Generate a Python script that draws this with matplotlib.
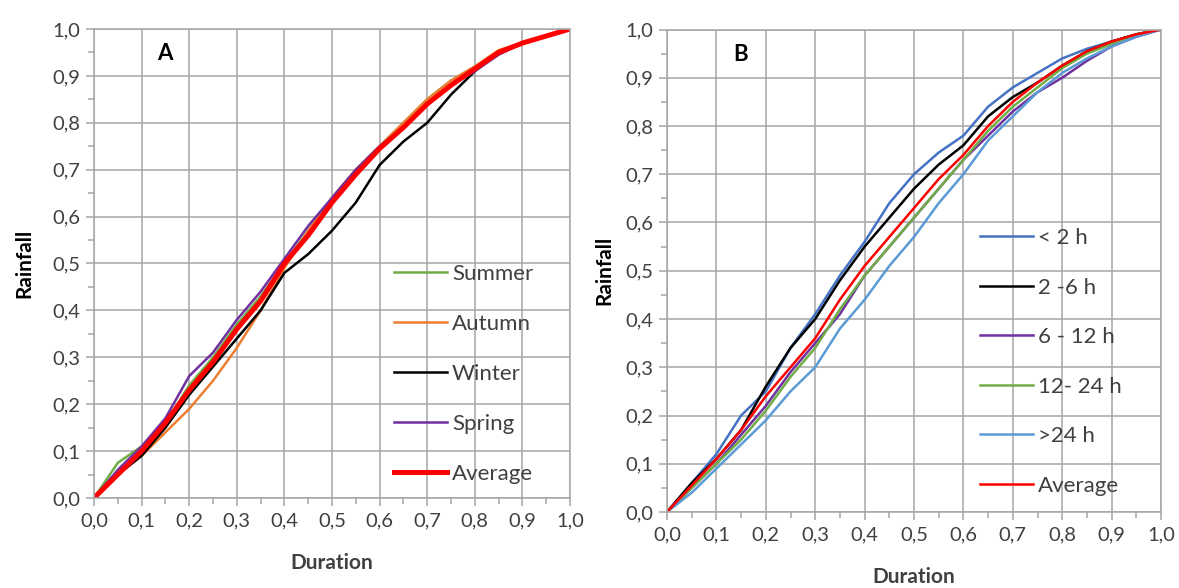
import matplotlib.pyplot as plt
from matplotlib.ticker import MultipleLocator, FuncFormatter

plt.rcParams['font.family'] = ['Lato', 'DejaVu Sans']

duration = [0.0, 0.05, 0.1, 0.15, 0.2, 0.25, 0.3, 0.35, 0.4, 0.45, 0.5,
            0.55, 0.6, 0.65, 0.7, 0.75, 0.8, 0.85, 0.9, 0.95, 1.0]

# panel A - seasons
summer = [0.0, 0.075, 0.11, 0.16, 0.24, 0.30, 0.37, 0.43, 0.50, 0.57, 0.64,
          0.70, 0.75, 0.80, 0.85, 0.89, 0.92, 0.95, 0.97, 0.985, 1.0]
autumn = [0.0, 0.05, 0.09, 0.14, 0.19, 0.25, 0.32, 0.40, 0.49, 0.57, 0.64,
          0.70, 0.75, 0.80, 0.85, 0.89, 0.92, 0.955, 0.97, 0.985, 1.0]
winter = [0.0, 0.05, 0.09, 0.15, 0.22, 0.28, 0.34, 0.40, 0.48, 0.52, 0.57,
          0.63, 0.71, 0.76, 0.80, 0.86, 0.91, 0.95, 0.97, 0.985, 1.0]
spring = [0.0, 0.06, 0.11, 0.17, 0.26, 0.31, 0.38, 0.44, 0.51, 0.58, 0.64,
          0.70, 0.75, 0.79, 0.84, 0.88, 0.91, 0.945, 0.97, 0.985, 1.0]
average_a = [0.0, 0.05, 0.10, 0.16, 0.23, 0.29, 0.36, 0.42, 0.50, 0.56, 0.63,
             0.69, 0.745, 0.79, 0.84, 0.88, 0.915, 0.95, 0.97, 0.985, 1.0]

# panel B - storm duration classes
lt2h = [0.0, 0.06, 0.12, 0.20, 0.25, 0.34, 0.41, 0.49, 0.56, 0.64, 0.70,
        0.745, 0.78, 0.84, 0.88, 0.91, 0.94, 0.96, 0.975, 0.99, 1.0]
h2_6 = [0.0, 0.06, 0.11, 0.17, 0.26, 0.34, 0.40, 0.48, 0.55, 0.61, 0.67,
        0.72, 0.76, 0.82, 0.86, 0.89, 0.925, 0.955, 0.975, 0.99, 1.0]
h6_12 = [0.0, 0.05, 0.10, 0.16, 0.22, 0.29, 0.35, 0.41, 0.49, 0.55, 0.61,
         0.67, 0.73, 0.78, 0.83, 0.87, 0.90, 0.935, 0.965, 0.985, 1.0]
h12_24 = [0.0, 0.05, 0.10, 0.15, 0.21, 0.28, 0.34, 0.42, 0.49, 0.55, 0.61,
          0.67, 0.73, 0.79, 0.84, 0.88, 0.92, 0.95, 0.97, 0.99, 1.0]
gt24h = [0.0, 0.04, 0.09, 0.14, 0.19, 0.25, 0.30, 0.38, 0.44, 0.51, 0.57,
         0.64, 0.70, 0.77, 0.82, 0.87, 0.91, 0.94, 0.965, 0.985, 1.0]
average_b = [0.0, 0.055, 0.11, 0.17, 0.24, 0.30, 0.36, 0.44, 0.51, 0.57, 0.63,
             0.69, 0.74, 0.80, 0.85, 0.89, 0.925, 0.955, 0.975, 0.99, 1.0]

grid_col = '#a6a6a6'
text_col = '#404040'


def comma(v, pos):
    return f'{v:.1f}'.replace('.', ',')


def style_axes(ax):
    ax.set_xlim(0, 1)
    ax.set_ylim(0, 1)
    ax.xaxis.set_major_locator(MultipleLocator(0.1))
    ax.yaxis.set_major_locator(MultipleLocator(0.1))
    ax.xaxis.set_minor_locator(MultipleLocator(0.05))
    ax.yaxis.set_minor_locator(MultipleLocator(0.05))
    ax.xaxis.set_major_formatter(FuncFormatter(comma))
    ax.yaxis.set_major_formatter(FuncFormatter(comma))
    ax.grid(True, which='major', color=grid_col, linewidth=1.1)
    ax.tick_params(which='major', length=6, width=1.1, color=grid_col,
                   labelsize=14.5, labelcolor=text_col, pad=4)
    ax.tick_params(which='minor', length=4, width=1.1, color=grid_col)
    for s in ax.spines.values():
        s.set_color(grid_col)
        s.set_linewidth(1.1)
    ax.set_axisbelow(True)


fig = plt.figure(figsize=(11.79, 5.88), dpi=100)

ax1 = fig.add_axes([94 / 1179, 1 - 498 / 588, 476 / 1179, 469 / 588])
style_axes(ax1)
ax1.plot(duration, summer, color='#70AD47', linewidth=1.8, label='Summer')
ax1.plot(duration, autumn, color='#ED7D31', linewidth=1.8, label='Autumn')
ax1.plot(duration, winter, color='black', linewidth=1.8, label='Winter')
ax1.plot(duration, spring, color='#7030A0', linewidth=1.8, label='Spring')
ax1.plot(duration, average_a, color='#FF0000', linewidth=3.6, label='Average')
ax1.text(0.149, 0.947, 'A', transform=ax1.transAxes, fontsize=16,
         fontweight='bold', ha='center', va='center')
ax1.set_xlabel('Duration', fontsize=15, fontweight='bold', color=text_col)
ax1.set_ylabel('Rainfall', fontsize=15, fontweight='bold', color='black')
ax1.xaxis.set_label_coords(0.5, -0.117)
ax1.yaxis.set_label_coords(-0.126, 0.5)
ax1.legend(loc='upper left', bbox_to_anchor=(0.588, 0.541), frameon=False,
           fontsize=16, labelspacing=1.35, handlelength=2.4,
           handletextpad=0.22, labelcolor=text_col)

ax2 = fig.add_axes([667 / 1179, 1 - 512 / 588, 494 / 1179, 482.5 / 588])
style_axes(ax2)
ax2.plot(duration, lt2h, color='#4472C4', linewidth=1.8, label='< 2 h')
ax2.plot(duration, h2_6, color='black', linewidth=1.8, label='2 -6 h')
ax2.plot(duration, h6_12, color='#7030A0', linewidth=1.8, label='6 - 12 h')
ax2.plot(duration, h12_24, color='#70AD47', linewidth=1.8, label='12- 24 h')
ax2.plot(duration, gt24h, color='#5B9BD5', linewidth=1.8, label='>24 h')
ax2.plot(duration, average_b, color='#FF0000', linewidth=1.8, label='Average')
ax2.text(0.148, 0.949, 'B', transform=ax2.transAxes, fontsize=16,
         fontweight='bold', ha='center', va='center')
ax2.set_xlabel('Duration', fontsize=15, fontweight='bold', color=text_col)
ax2.set_ylabel('Rainfall', fontsize=15, fontweight='bold', color='black')
ax2.xaxis.set_label_coords(0.5, -0.114)
ax2.yaxis.set_label_coords(-0.107, 0.5)
ax2.legend(loc='upper left', bbox_to_anchor=(0.593, 0.630), frameon=False,
           fontsize=16, labelspacing=1.33, handlelength=2.4,
           handletextpad=0.22, labelcolor=text_col)

fig.savefig('out.png', dpi=100)
